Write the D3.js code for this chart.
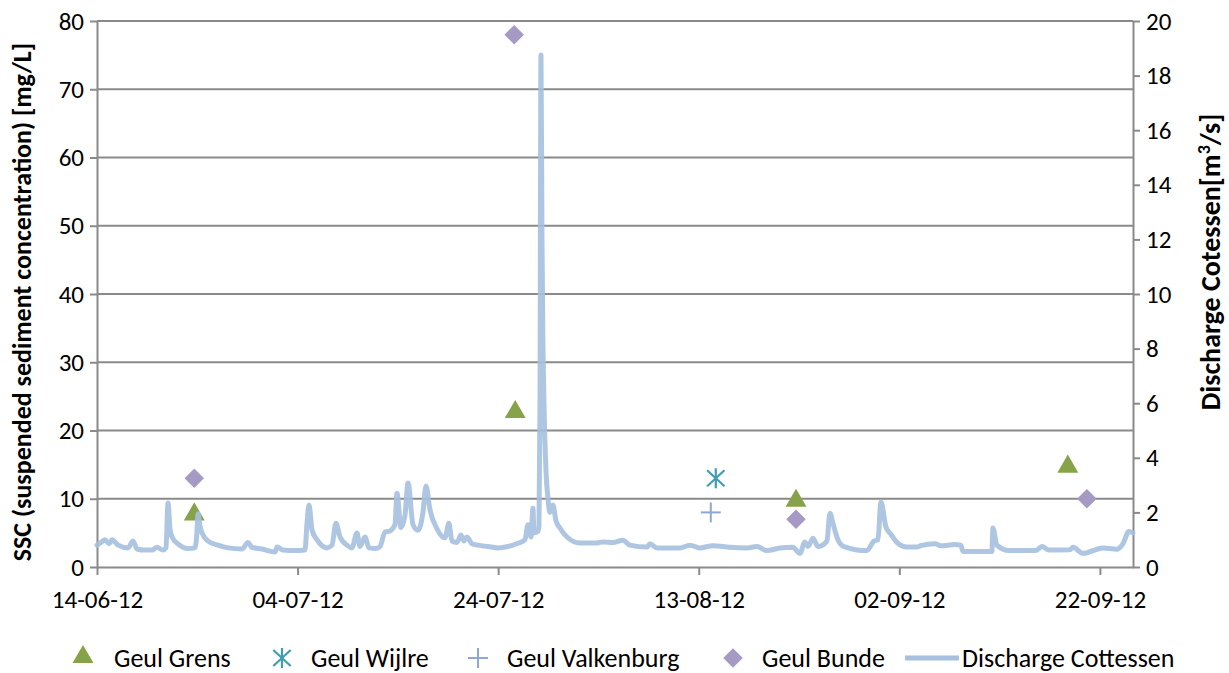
<!DOCTYPE html>
<html>
<head>
<meta charset="utf-8">
<script src="https://cdn.jsdelivr.net/npm/d3@7"></script>
<style>
html,body{margin:0;padding:0;background:#fff;}
svg text{font-family:Calibri,Carlito,Lato,sans-serif;fill:#000;}
</style>
</head>
<body>
<svg id="chart" width="1229" height="673"></svg>
<script>
// ---- data ----
const startDate = new Date(2012, 5, 14); // 14-06-12
const endDayOffset = 103.3;
const xTickLabels = ["14-06-12","04-07-12","24-07-12","13-08-12","02-09-12","22-09-12"];
const xTickDays = [0, 20, 40, 60, 80, 100];
const leftTicks = [0,10,20,30,40,50,60,70,80];
const rightTicks = [0,2,4,6,8,10,12,14,16,18,20];

// discharge Cottessen: day offsets from 14-06-12 and values [m3/s]
const dischargeDays = [0,0.40,0.80,1.20,1.50,2.09,3.09,3.59,3.99,4.79,5.48,5.98,6.58,6.88,7.08,7.28,7.48,8.08,9.07,9.77,9.97,10.07,10.27,10.47,11.07,12.06,13.06,14.46,15.05,15.45,16.45,17.75,17.95,18.54,19.74,20.74,20.94,21.14,21.44,21.93,22.93,23.43,23.83,24.23,24.93,25.42,25.92,26.22,26.72,27.12,27.82,28.22,28.71,29.21,29.71,29.91,30.31,30.71,31.01,31.51,32.00,32.50,32.80,33.20,33.90,34.70,35.09,35.39,35.89,36.29,36.59,36.89,37.39,37.99,38.98,39.98,40.98,41.97,42.67,42.97,43.27,43.47,43.57,43.97,44.07,44.17,44.27,44.37,44.47,44.57,44.77,44.97,45.16,45.46,45.76,46.16,46.86,48.16,49.85,50.45,51.45,52.44,53.14,54.84,55.13,55.83,58.13,59.12,60.12,61.42,63.11,64.81,65.80,66.80,68.10,69.39,70.09,70.59,70.89,71.39,71.88,72.78,73.08,73.38,73.88,74.48,76.77,77.47,77.87,78.17,78.66,79.16,79.76,80.76,81.75,82.15,83.55,84.15,85.54,86.14,86.34,88.24,89.23,89.33,89.73,90.93,93.62,94.22,94.91,97.01,97.31,98.31,100.30,101.69,102.29,102.89,103.29];
const dischargeValues = [0.8,0.9,1.0,0.85,1.0,0.8,0.7,0.95,0.66,0.62,0.62,0.72,0.62,0.7,2.34,1.4,1.1,0.85,0.68,0.7,1.3,1.95,1.5,1.25,0.95,0.8,0.7,0.66,0.9,0.72,0.66,0.55,0.73,0.62,0.6,0.62,1.6,2.27,1.35,1.0,0.7,0.8,1.6,1.1,0.8,0.7,1.25,0.75,1.1,0.7,0.68,0.75,1.28,1.32,1.55,2.7,1.45,1.9,3.08,1.55,1.35,2.0,2.97,2.1,1.4,1.07,1.6,0.95,0.9,1.17,0.95,1.1,0.85,0.8,0.75,0.7,0.75,0.87,1.0,1.55,1.1,2.15,1.25,1.3,1.5,6.0,18.75,12.0,8.0,6.0,3.5,2.5,2.0,2.27,1.7,1.43,1.1,0.88,0.88,0.92,0.9,0.98,0.8,0.73,0.85,0.7,0.7,0.8,0.7,0.78,0.72,0.7,0.75,0.6,0.7,0.72,0.5,0.92,0.75,1.05,0.75,0.95,1.97,1.6,1.0,0.75,0.6,0.95,1.0,2.38,1.47,1.2,0.9,0.73,0.73,0.78,0.85,0.78,0.82,0.8,0.57,0.57,0.57,1.43,0.8,0.6,0.6,0.75,0.62,0.63,0.72,0.5,0.7,0.65,0.85,1.3,1.25];

// SSC samples [mg/L]
const grensDays = [9.7, 41.7, 69.7, 96.8];
const grensValues = [8, 23, 10, 15];
const wijlreDays = [61.7];
const wijlreValues = [13];
const valkenburgDays = [61.2];
const valkenburgValues = [8];
const bundeDays = [9.7, 41.6, 69.7, 98.7];
const bundeValues = [13, 78, 7, 10];

const seriesNames = ["Geul Grens","Geul Wijlre","Geul Valkenburg","Geul Bunde","Discharge Cottessen"];

// ---- styles ----
const C = {grens:"#86A34A", wijlre:"#3E9DB3", valk:"#8EA8D6", bunde:"#A699C3", line:"#A6C0E0", grid:"#8A8A8A"};
const dayToDate = d => new Date(startDate.getTime() + d*86400000);

const svg = d3.select("#chart");
const M = {left:97, right:1133, top:21, bottom:567};

const x = d3.scaleTime().domain([startDate, dayToDate(endDayOffset)]).range([M.left, M.right]);
const yL = d3.scaleLinear().domain([0,80]).range([M.bottom, M.top]);
const yR = d3.scaleLinear().domain([0,20]).range([M.bottom, M.top]);

// gridlines
svg.append("g").selectAll("line").data(leftTicks.filter(t=>t>0)).join("line")
  .attr("x1",M.left).attr("x2",M.right)
  .attr("y1",d=>yL(d)).attr("y2",d=>yL(d))
  .attr("stroke",C.grid).attr("stroke-width",2);

// axes
const fs = 25;
const gx = svg.append("g").attr("transform",`translate(0,${M.bottom})`)
  .call(d3.axisBottom(x).tickValues(xTickDays.map(dayToDate)).tickFormat((d,i)=>xTickLabels[i]).tickSize(8).tickSizeOuter(0).tickPadding(15));
const gl = svg.append("g").attr("transform",`translate(${M.left},0)`)
  .call(d3.axisLeft(yL).tickValues(leftTicks).tickSize(7).tickSizeOuter(0).tickPadding(6));
const gr = svg.append("g").attr("transform",`translate(${M.right},0)`)
  .call(d3.axisRight(yR).tickValues(rightTicks).tickSize(7).tickSizeOuter(0).tickPadding(6));
[gx,gl,gr].forEach(g=>{
  g.selectAll("path").attr("stroke",C.grid).attr("stroke-width",2);
  g.selectAll("line").attr("stroke",C.grid).attr("stroke-width",2);
  g.selectAll("text").attr("font-size",fs).attr("font-family","Calibri,Carlito,Lato,sans-serif").attr("fill","#000");
});

// axis titles
svg.append("text").attr("transform",`translate(31,${(M.top+M.bottom)/2+8}) rotate(-90)`)
  .attr("text-anchor","middle").attr("font-size",26).attr("font-weight","bold")
  .text("SSC (suspended sediment concentration) [mg/L]");
svg.append("text").attr("transform",`translate(1220,262) rotate(-90)`)
  .attr("text-anchor","middle").attr("font-size",28).attr("font-weight","bold")
  .html("Discharge Cotessen[m<tspan font-size='18' dy='-10'>3</tspan><tspan dy='10'>/s]</tspan>");

// symbols
const sym = {
  tri: d3.symbol().type(d3.symbolTriangle).size(190),
  dia: d3.symbol().type(d3.symbolSquare).size(190)
};
function drawTri(g, cx, cy){ g.append("path").attr("d",sym.tri()).attr("transform",`translate(${cx},${cy+2})`).attr("fill",C.grens); }
function drawDia(g, cx, cy){ g.append("path").attr("d",sym.dia()).attr("transform",`translate(${cx},${cy}) rotate(45)`).attr("fill",C.bunde); }
function drawStar(g, cx, cy){
  const r=10, gg=g.append("g").attr("transform",`translate(${cx},${cy})`).attr("stroke",C.wijlre).attr("stroke-width",2.2);
  gg.append("line").attr("x1",0).attr("y1",-r).attr("x2",0).attr("y2",r);
  gg.append("line").attr("x1",-r*0.87).attr("y1",-r*0.8).attr("x2",r*0.87).attr("y2",r*0.8);
  gg.append("line").attr("x1",-r*0.87).attr("y1",r*0.8).attr("x2",r*0.87).attr("y2",-r*0.8);
}
function drawPlus(g, cx, cy){
  const r=10, gg=g.append("g").attr("transform",`translate(${cx},${cy})`).attr("stroke",C.valk).attr("stroke-width",2);
  gg.append("line").attr("x1",0).attr("y1",-r).attr("x2",0).attr("y2",r);
  gg.append("line").attr("x1",-r).attr("y1",0).attr("x2",r).attr("y2",0);
}

const gm = svg.append("g");
grensDays.forEach((d,i)=>drawTri(gm, x(dayToDate(d)), yL(grensValues[i])));
wijlreDays.forEach((d,i)=>drawStar(gm, x(dayToDate(d)), yL(wijlreValues[i])));
valkenburgDays.forEach((d,i)=>drawPlus(gm, x(dayToDate(d)), yL(valkenburgValues[i])));
bundeDays.forEach((d,i)=>drawDia(gm, x(dayToDate(d)), yL(bundeValues[i])));

// discharge line
const lineData = dischargeDays.map((d,i)=>({t:dayToDate(d), v:dischargeValues[i]}));
svg.append("path").datum(lineData)
  .attr("fill","none").attr("stroke",C.line).attr("stroke-width",5).attr("stroke-opacity",0.9)
  .attr("stroke-linejoin","round").attr("stroke-linecap","round")
  .attr("d", d3.line().x(d=>x(d.t)).y(d=>yR(d.v)).curve(d3.curveMonotoneX));

// legend
const ly = 658;
const lg = svg.append("g");
drawTri(lg, 83, ly-3);
lg.append("text").attr("x",114).attr("y",ly+9).attr("font-size",26).text(seriesNames[0]);
drawStar(lg, 282, ly);
lg.append("text").attr("x",311).attr("y",ly+9).attr("font-size",26).text(seriesNames[1]);
drawPlus(lg, 478, ly);
lg.append("text").attr("x",507).attr("y",ly+9).attr("font-size",26).text(seriesNames[2]);
drawDia(lg, 733, ly);
lg.append("text").attr("x",762).attr("y",ly+9).attr("font-size",26).text(seriesNames[3]);
lg.append("line").attr("x1",905).attr("x2",959).attr("y1",ly).attr("y2",ly).attr("stroke",C.line).attr("stroke-width",5);
lg.append("text").attr("x",962).attr("y",ly+9).attr("font-size",26).text(seriesNames[4]);
</script>
</body>
</html>
